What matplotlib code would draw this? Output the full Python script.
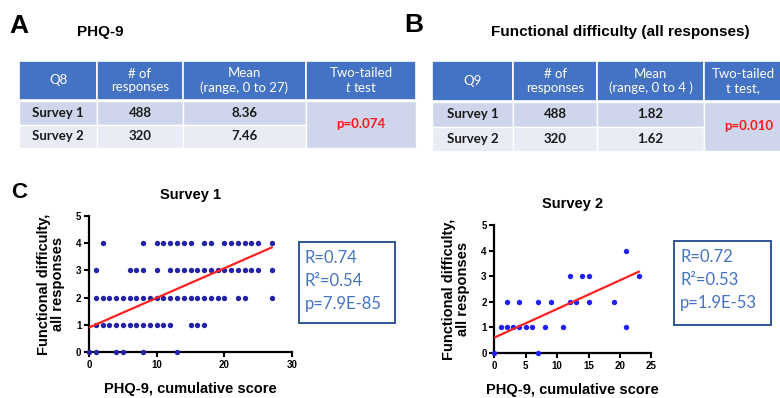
import numpy as np
import matplotlib.pyplot as plt
from matplotlib.patches import Rectangle

plt.rcParams['font.family'] = ['Liberation Sans', 'DejaVu Sans']
plt.rcParams['mathtext.fontset'] = 'custom'
plt.rcParams['mathtext.rm'] = 'Lato'
plt.rcParams['mathtext.it'] = 'Lato:italic'

# table A (PHQ-9)
tbl_a_header = ['Q8', '# of\nresponses', 'Mean\n(range, 0 to 27)', 'Two-tailed\n$t$ test']
tbl_a_rows = [['Survey 1', '488', '8.36'], ['Survey 2', '320', '7.46']]
tbl_a_p = 'p=0.074'

# table B (functional difficulty)
tbl_b_header = ['Q9', '# of\nresponses', 'Mean\n(range, 0 to 4 )', 'Two-tailed\nt test,']
tbl_b_rows = [['Survey 1', '488', '1.82'], ['Survey 2', '320', '1.62']]
tbl_b_p = 'p=0.010'

# survey 1 scatter: PHQ-9 scores at each functional difficulty level
s1_x_lvl0 = [0, 1, 4, 5, 8, 13]
s1_x_lvl1 = [1, 2, 3, 4, 5, 6, 7, 8, 9, 10, 11, 12, 15, 16, 17]
s1_x_lvl2 = [1, 2, 3, 4, 5, 6, 7, 8, 9, 10, 11, 12, 13, 14, 15, 16, 17, 18, 19, 20, 22, 23, 27]
s1_x_lvl3 = [1, 6, 7, 8, 10, 12, 13, 14, 15, 16, 17, 18, 19, 20, 21, 22, 23, 24, 25, 27]
s1_x_lvl4 = [2, 8, 10, 11, 12, 13, 14, 15, 17, 18, 20, 21, 22, 23, 24, 25, 27]
s1_fit = [0.9, 0.109]  # intercept, slope
s1_fit_range = [0, 27]
s1_stats = ['R=0.74', 'R²=0.54', 'p=7.9E-85']

# survey 2 scatter
s2_x_lvl0 = [0, 7]
s2_x_lvl1 = [1, 2, 3, 4, 5, 6, 8, 11, 21]
s2_x_lvl2 = [2, 4, 7, 9, 12, 13, 15, 19]
s2_x_lvl3 = [12, 14, 15, 23]
s2_x_lvl4 = [21]
s2_fit = [0.6, 0.112]
s2_fit_range = [0, 23]
s2_stats = ['R=0.72', 'R²=0.53', 'p=1.9E-53']

HDR = '#4472C4'
ROW1 = '#CFD5EA'
ROW2 = '#E9EBF5'
BOXTXT = '#4472C4'
BOXEDGE = '#2F5597'

fig = plt.figure(figsize=(7.8, 3.98), dpi=100)
ax0 = fig.add_axes([0, 0, 1, 1])
ax0.set_xlim(0, 780)
ax0.set_ylim(398, 0)
ax0.axis('off')


def draw_table(cols, rows_y, header, rows, pval, last_cx):
    y_h0, y_h1, y_r1, y_r2 = rows_y
    for i, txt in enumerate(header):
        x0, x1 = cols[i], cols[i + 1]
        cx = last_cx if i == 3 else (x0 + x1) / 2
        ax0.add_patch(Rectangle((x0, y_h0), x1 - x0, y_h1 - y_h0, facecolor=HDR,
                                edgecolor='white', lw=1.2))
        ax0.text(cx, (y_h0 + y_h1) / 2, txt, ha='center', va='center',
                 color='white', fontsize=9.5, family='Lato', linespacing=1.15)
    for r, row in enumerate(rows):
        top = y_h1 + 1 if r == 0 else y_r1
        bot = y_r1 if r == 0 else y_r2
        fc = ROW1 if r == 0 else ROW2
        for i, txt in enumerate(row):
            x0, x1 = cols[i], cols[i + 1]
            ax0.add_patch(Rectangle((x0, top), x1 - x0, bot - top, facecolor=fc,
                                    edgecolor='white', lw=1.0))
            ax0.text((x0 + x1) / 2, (top + bot) / 2, txt, ha='center', va='center',
                     color='#1a1a1a', fontsize=9.5, family='Lato', fontweight='bold')
    x0, x1 = cols[3], cols[4]
    ax0.add_patch(Rectangle((x0, y_h1 + 1), x1 - x0, y_r2 - y_h1 - 1, facecolor=ROW1,
                            edgecolor='white', lw=1.0))
    ax0.text((x0 + x1) / 2, (y_h1 + y_r2) / 2, pval, ha='center', va='center',
             color='#FF1A1A', fontsize=9.5, family='Lato', fontweight='bold')


draw_table([19, 97, 183, 306, 416], [61, 100, 125, 148], tbl_a_header, tbl_a_rows,
           tbl_a_p, 361)
draw_table([432, 513, 597, 704, 794], [61, 101, 127, 151], tbl_b_header, tbl_b_rows,
           tbl_b_p, 743)

# panel letters and titles
ax0.text(9, 26, 'A', fontsize=19, fontweight='bold', ha='left', va='center')
ax0.text(77, 32, 'PHQ-9', fontsize=11, fontweight='bold', ha='left', va='center')
ax0.text(404, 25, 'B', fontsize=19, fontweight='bold', ha='left', va='center')
ax0.text(491, 32, 'Functional difficulty (all responses)', fontsize=11,
         fontweight='bold', ha='left', va='center')
ax0.text(11, 193, 'C', fontsize=16, fontweight='bold', ha='left', va='center')


def draw_scatter(rect, lvls, fit, fit_range, xmax, xstep, title, color, stats, box):
    ax = fig.add_axes(rect)
    ax.set_facecolor('none')
    for lvl, xs in enumerate(lvls):
        ax.scatter(xs, [lvl] * len(xs), s=15, color=color, clip_on=False, zorder=3,
                   linewidths=0)
    fx = np.array(fit_range)
    ax.plot(fx, fit[0] + fit[1] * fx, color='#FF2020', lw=1.6, zorder=4)
    ax.set_xlim(0, xmax)
    ax.set_ylim(0, 5)
    ax.set_xticks(np.arange(0, xmax + 1, xstep))
    ax.set_yticks(range(6))
    for s in ['top', 'right']:
        ax.spines[s].set_visible(False)
    for s in ['left', 'bottom']:
        ax.spines[s].set_linewidth(1.6)
    ax.tick_params(width=1.5, length=3.5, labelsize=7, pad=2)
    for lab in ax.get_xticklabels() + ax.get_yticklabels():
        lab.set_fontweight('bold')
    ax.set_title(title, fontsize=10.5, fontweight='bold', pad=12)
    ax.set_xlabel('PHQ-9, cumulative score', fontsize=10.5, fontweight='bold', labelpad=9)
    ax.set_ylabel('Functional difficulty,\nall responses', fontsize=10.5,
                  fontweight='bold', labelpad=8, linespacing=1.0)
    bx0, by0, bx1, by1 = box
    ax0.add_patch(Rectangle((bx0, by0), bx1 - bx0, by1 - by0, facecolor='white',
                            edgecolor=BOXEDGE, lw=1.4))
    for k, t in enumerate(stats):
        ax0.text(bx0 + 6, by0 + 16 + k * 23, t, fontsize=12, family='Lato',
                 color=BOXTXT, ha='left', va='center')
    return ax


draw_scatter([89 / 780, 46 / 398, 203 / 780, 136 / 398],
             [s1_x_lvl0, s1_x_lvl1, s1_x_lvl2, s1_x_lvl3, s1_x_lvl4],
             s1_fit, s1_fit_range, 30, 10, 'Survey 1', '#2323A8', s1_stats,
             (299, 242, 395, 323))
draw_scatter([494.3 / 780, 45 / 398, 157 / 780, 128 / 398],
             [s2_x_lvl0, s2_x_lvl1, s2_x_lvl2, s2_x_lvl3, s2_x_lvl4],
             s2_fit, s2_fit_range, 25, 5, 'Survey 2', '#1F1FFF', s2_stats,
             (674, 241, 771, 325))

fig.savefig('out.png', dpi=100)
